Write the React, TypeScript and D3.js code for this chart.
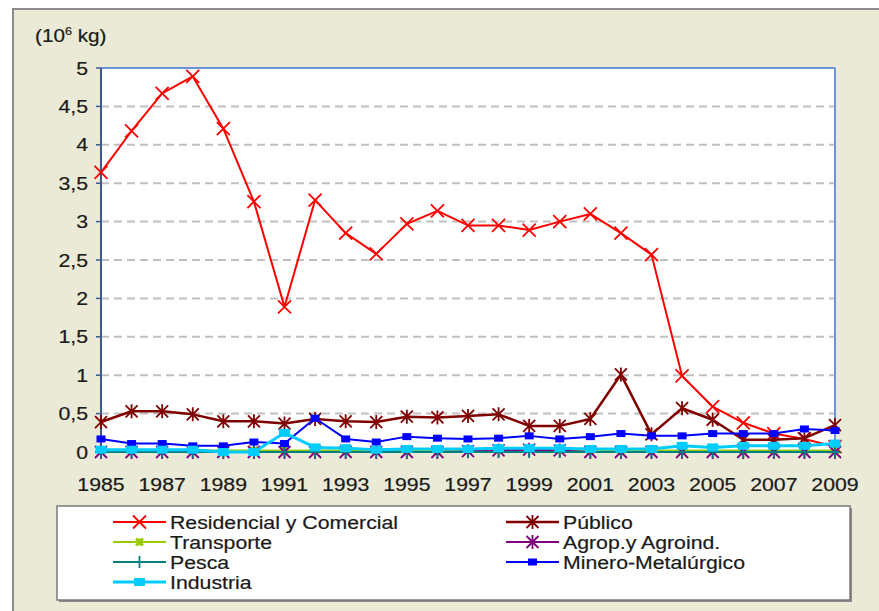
import * as React from 'react';
import * as d3 from 'd3';

const years = d3.range(1985, 2010);
const xTickYears = [1985, 1987, 1989, 1991, 1993, 1995, 1997, 1999, 2001, 2003, 2005, 2007, 2009];
const yTicks = [0, 0.5, 1, 1.5, 2, 2.5, 3, 3.5, 4, 4.5, 5];

const residencial = [3.64, 4.18, 4.67, 4.89, 4.21, 3.26, 1.89, 3.28, 2.85, 2.58, 2.97, 3.14, 2.95, 2.95, 2.89, 3.0, 3.1, 2.85, 2.57, 0.99, 0.59, 0.38, 0.24, 0.17, 0.07];
const publico = [0.39, 0.53, 0.53, 0.49, 0.4, 0.4, 0.37, 0.43, 0.4, 0.39, 0.46, 0.45, 0.47, 0.49, 0.34, 0.34, 0.43, 1.01, 0.23, 0.57, 0.42, 0.16, 0.16, 0.18, 0.35];
const transporte = [0.02, 0.02, 0.02, 0.02, 0.02, 0.02, 0.02, 0.02, 0.02, 0.02, 0.02, 0.02, 0.02, 0.03, 0.05, 0.03, 0.02, 0.02, 0.02, 0.02, 0.02, 0.02, 0.02, 0.02, 0.02];
const agrop = [0, 0, 0, 0, 0, 0, 0, 0, 0, 0, 0, 0, 0.01, 0.02, 0.03, 0.02, 0, 0, 0, 0, 0, 0, 0, 0, 0];
const pesca = [0, 0, 0, 0, 0, 0, 0, 0, 0, 0, 0, 0, 0, 0, 0, 0, 0, 0, 0, 0, 0, 0, 0, 0, 0];
const minero = [0.17, 0.11, 0.11, 0.08, 0.08, 0.13, 0.11, 0.44, 0.17, 0.13, 0.2, 0.18, 0.17, 0.18, 0.21, 0.17, 0.2, 0.24, 0.21, 0.21, 0.24, 0.24, 0.24, 0.3, 0.28];
const industria = [0.03, 0.03, 0.03, 0.03, 0.0, 0.0, 0.25, 0.06, 0.05, 0.03, 0.04, 0.04, 0.04, 0.05, 0.05, 0.05, 0.04, 0.04, 0.04, 0.08, 0.06, 0.08, 0.08, 0.08, 0.11];

type Marker = 'x' | 'asterisk' | 'star' | 'plus' | 'rect' | 'bigrect';

const series: { name: string; values: number[]; color: string; width: number; marker: Marker }[] = [
  { name: 'Residencial y Comercial', values: residencial, color: '#FF0000', width: 2, marker: 'x' },
  { name: 'Público', values: publico, color: '#800000', width: 2.5, marker: 'asterisk' },
  { name: 'Transporte', values: transporte, color: '#99CC00', width: 2, marker: 'star' },
  { name: 'Agrop.y Agroind.', values: agrop, color: '#800080', width: 2, marker: 'asterisk' },
  { name: 'Pesca', values: pesca, color: '#008080', width: 2, marker: 'plus' },
  { name: 'Minero-Metalúrgico', values: minero, color: '#0000FF', width: 2, marker: 'rect' },
  { name: 'Industria', values: industria, color: '#00CCFF', width: 3, marker: 'bigrect' },
];

const FONT = 'Arial, "Liberation Sans", sans-serif';
const STRETCH = 1.15;

// text stretched horizontally like the source picture
function SText(props: { x: number; y: number; anchor?: string; size: number; children: React.ReactNode }) {
  return (
    <g transform={`translate(${props.x},${props.y}) scale(${STRETCH},1)`}>
      <text x={0} y={0} dy="0.36em" textAnchor={props.anchor || 'start'} fontSize={props.size}
        fill="#1a1a1a" stroke="#1a1a1a" strokeWidth={0.2}>
        {props.children}
      </text>
    </g>
  );
}

function markerEl(kind: Marker, cx: number, cy: number, color: string, key: string) {
  if (kind === 'rect') {
    return <rect key={key} x={cx - 4.5} y={cy - 3.5} width={9} height={7} fill={color} />;
  }
  if (kind === 'bigrect') {
    return <rect key={key} x={cx - 5.5} y={cy - 4} width={11} height={8} fill={color} />;
  }
  let s = 6;
  let d = '';
  if (kind === 'x') {
    s = 6.5;
    d = `M${cx - s},${cy - s}L${cx + s},${cy + s}M${cx - s},${cy + s}L${cx + s},${cy - s}`;
  } else if (kind === 'asterisk') {
    d = `M${cx - s},${cy - s}L${cx + s},${cy + s}M${cx - s},${cy + s}L${cx + s},${cy - s}M${cx},${cy - s - 1}L${cx},${cy + s + 1}`;
  } else if (kind === 'star') {
    s = 3.5;
    d = `M${cx - s},${cy - s}L${cx + s},${cy + s}M${cx - s},${cy + s}L${cx + s},${cy - s}M${cx},${cy - s}L${cx},${cy + s}`;
  } else {
    d = `M${cx},${cy - s}L${cx},${cy + s}M${cx - s},${cy}L${cx + s},${cy}`;
  }
  return <path key={key} d={d} stroke={color} strokeWidth={kind === 'star' ? 2.5 : 1.8} fill="none" />;
}

export default function App() {
  const width = 879;
  const height = 611;
  const x = d3.scaleLinear().domain([1985, 2009]).range([101, 835]);
  const y = d3.scaleLinear().domain([0, 5]).range([452, 68]);
  const line = d3.line<number>().x((_, i) => x(years[i])).y(d => y(d));
  const fmt = (v: number) => String(v).replace('.', ',');

  const legendRows = [
    [0, 1],
    [2, 3],
    [4, 5],
    [6],
  ];
  const colX = [113, 506];

  return (
    <svg width={width} height={height} style={{ position: 'absolute', left: 0, top: 0 }} fontFamily={FONT}>
      <rect x={0} y={0} width={width} height={height} fill="#FFFFFF" />
      <rect x={13} y={9} width={width} height={height} fill="#EAEAD6" stroke="#8C8C8C" strokeWidth={2} />

      {/* y axis unit */}
      <g transform={`translate(35,42) scale(${STRETCH},1)`}>
        <text x={0} y={0} fontSize={18} fill="#1a1a1a" stroke="#1a1a1a" strokeWidth={0.2}>
          (10<tspan dy={-7} fontSize={11}>6</tspan><tspan dy={7}> kg)</tspan>
        </text>
      </g>

      {/* plot area */}
      <rect x={101} y={68} width={734} height={384} fill="#FFFFFF" />
      {yTicks.filter(t => t > 0 && t < 5).map(t => (
        <line key={t} x1={101} x2={835} y1={y(t)} y2={y(t)} stroke="#C0C0C0" strokeWidth={2} strokeDasharray="8,5" />
      ))}
      <line x1={101} x2={835} y1={68} y2={68} stroke="#6F93DA" strokeWidth={2} />
      <line x1={835} x2={835} y1={68} y2={452} stroke="#6F93DA" strokeWidth={2} />
      <line x1={101} x2={101} y1={68} y2={452} stroke="#3E5A8C" strokeWidth={2} />
      <line x1={101} x2={835} y1={452} y2={452} stroke="#3E5A8C" strokeWidth={1} />

      {yTicks.map(t => (
        <g key={t}>
          <line x1={96} x2={101} y1={y(t)} y2={y(t)} stroke="#3E5A8C" strokeWidth={1.5} />
          <SText x={88} y={y(t)} anchor="end" size={18.5}>{fmt(t)}</SText>
        </g>
      ))}
      {xTickYears.map(yr => (
        <SText key={yr} x={x(yr)} y={484} anchor="middle" size={18.5}>{yr}</SText>
      ))}

      {series.map(s => (
        <g key={s.name}>
          <path d={line(s.values) || ''} fill="none" stroke={s.color} strokeWidth={s.width} strokeLinejoin="round" />
          {s.values.map((v, i) => markerEl(s.marker, x(years[i]), y(v), s.color, `${s.name}-${i}`))}
        </g>
      ))}

      {/* legend */}
      <rect x={59} y={508} width={793} height={94} fill="#8A8A8A" />
      <rect x={57} y={506} width={793} height={94} fill="#FFFFFF" stroke="#7A7A7A" strokeWidth={1.5} />
      {legendRows.map((row, r) =>
        row.map((si, c) => {
          const s = series[si];
          const cy = 522 + r * 20;
          const x0 = colX[c];
          const x1 = x0 + 53;
          return (
            <g key={s.name}>
              <line x1={x0} x2={x1} y1={cy} y2={cy} stroke={s.color} strokeWidth={s.width} />
              {markerEl(s.marker, (x0 + x1) / 2, cy, s.color, 'm')}
              <SText x={x1 + 4} y={cy} size={18.5}>{s.name}</SText>
            </g>
          );
        })
      )}
    </svg>
  );
}
